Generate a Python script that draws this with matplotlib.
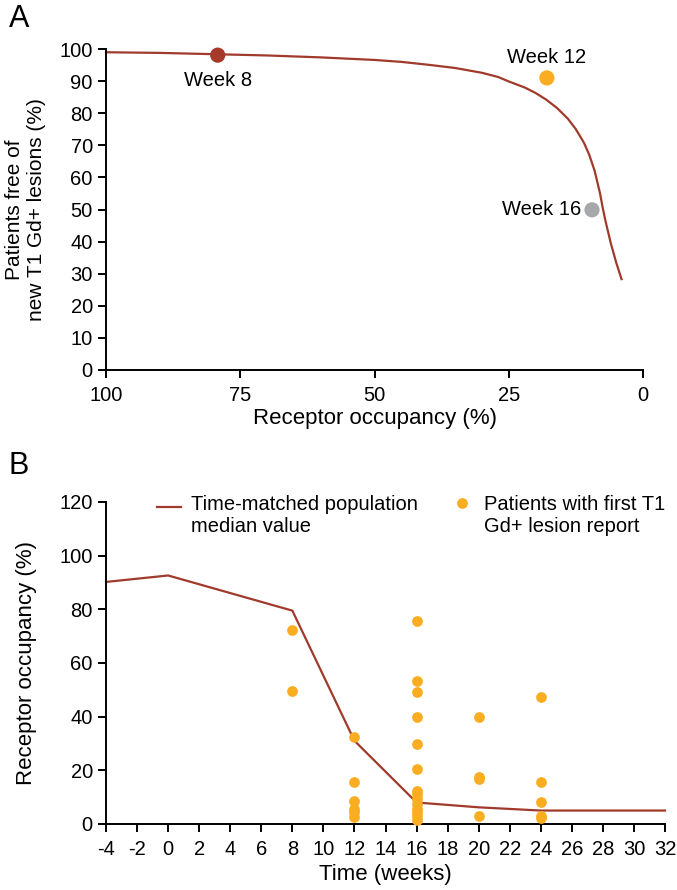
import matplotlib.pyplot as plt

plt.rcParams['font.family'] = ['Liberation Sans', 'DejaVu Sans']
plt.rcParams['axes.unicode_minus'] = False

###############################################################################
# Data
###############################################################################
# Panel A: exposure-response curve ---------------------------------------------
roCurve = [100, 90, 80, 70, 60, 50, 45, 40, 35, 30, 27, 25, 22, 20, 18, 16,
           14, 12.5, 11, 10, 9, 8, 7.5, 7, 6, 5, 4]
freeCurve = [99.0, 98.8, 98.4, 98.0, 97.4, 96.6, 96.0, 95.1, 94.1, 92.6,
             91.3, 89.9, 88.0, 86.3, 84.2, 81.6, 78.3, 75.0, 70.8, 67.0,
             62.0, 55.0, 50.5, 46.5, 39.5, 33.5, 28.3]
weekNames = ['Week 8', 'Week 12', 'Week 16']
weekRO = [79.2, 17.9, 9.5]
weekFree = [98.1, 91.0, 49.9]
# Panel B: time course ---------------------------------------------------------
medWeeks = [-4, 0, 8, 12, 16, 20, 24, 32]
medRO = [90.2, 92.6, 79.5, 31.0, 8.0, 6.2, 5.0, 5.0]
ptWeeks = (
    [8] * 2 + [12] * 6 + [16] * 14 + [20] * 4 + [24] * 5
)
ptRO = (
    [72.4, 49.4] +
    [32.3, 15.5, 8.5, 5.6, 4.4, 2.7] +
    [75.5, 53.1, 49.1, 40.0, 29.8, 20.4, 12.4, 11.2, 9.3, 7.5, 5.6, 4.4,
     3.1, 1.6] +
    [40.0, 17.4, 16.8, 2.9] +
    [47.5, 15.8, 8.3, 3.1, 2.1]
)
###############################################################################
# Styles
###############################################################################
(RED, ORANGE, GREY) = ('#a03a2b', '#fbad22', '#a6a8ab')
weekColors = ['#a53a2a', ORANGE, GREY]
(TFS, LFS) = (14.5, 16)
###############################################################################
# Figure
###############################################################################
fig = plt.figure(figsize=(6.77, 8.90), dpi=100)
axA = fig.add_axes([0.1566, 0.5843, 0.7932, 0.3606])
axB = fig.add_axes([0.1566, 0.0742, 0.8257, 0.3618])

for ax in (axA, axB):
    for s in ('top', 'right'):
        ax.spines[s].set_visible(False)
    for s in ('left', 'bottom'):
        ax.spines[s].set_linewidth(1.4)
    ax.tick_params(direction='out', length=5.5, width=1.4, labelsize=TFS)
    ax.tick_params(axis='x', pad=6)
    ax.tick_params(axis='y', pad=4)

# Panel A ---------------------------------------------------------------------
axA.plot(roCurve, freeCurve, color=RED, lw=1.6, zorder=2)
axA.scatter(weekRO, weekFree, s=120, c=weekColors, zorder=3, lw=0)
axA.annotate(weekNames[0], (weekRO[0], weekFree[0]), xytext=(0, -18),
             textcoords='offset points', ha='center', va='center',
             fontsize=TFS)
axA.annotate(weekNames[1], (weekRO[1], weekFree[1]), xytext=(0, 15),
             textcoords='offset points', ha='center', va='center',
             fontsize=TFS)
axA.annotate(weekNames[2], (weekRO[2], weekFree[2]), xytext=(-8, 0),
             textcoords='offset points', ha='right', va='center',
             fontsize=TFS)
axA.set_xlim(100, 0)
axA.set_ylim(0, 100)
axA.set_xticks([100, 75, 50, 25, 0])
axA.set_yticks(range(0, 101, 10))
axA.set_xlabel('Receptor occupancy (%)', fontsize=LFS, labelpad=2)
axA.set_ylabel('Patients free of\nnew T1 Gd+ lesions (%)', fontsize=15,
               labelpad=10, linespacing=1.15)

# Panel B ---------------------------------------------------------------------
axB.plot(medWeeks, medRO, color=RED, lw=1.6, zorder=2,
         label='Time-matched population\nmedian value')
axB.scatter(ptWeeks, ptRO, s=60, color=ORANGE, lw=0, zorder=3,
            label='Patients with first T1\nGd+ lesion report')
axB.set_xlim(-4, 32)
axB.set_ylim(0, 120)
axB.set_xticks(range(-4, 33, 2))
axB.set_yticks(range(0, 121, 20))
axB.set_xlabel('Time (weeks)', fontsize=LFS, labelpad=4)
axB.set_ylabel('Receptor occupancy (%)', fontsize=LFS, labelpad=16)
axB.legend(loc='upper left', bbox_to_anchor=(0.058, 1.09), ncol=2,
           frameon=False, fontsize=14.5, handlelength=1.2, handleheight=3.6,
           handletextpad=0.5, columnspacing=1.6, markerscale=1.0)
for ax in (axA, axB):
    for c in ax.collections + ax.lines:
        c.set_clip_on(False)

# Panel letters ---------------------------------------------------------------
fig.text(0.013, 0.995, 'A', fontsize=22, va='top', ha='left')
fig.text(0.013, 0.493, 'B', fontsize=22, va='top', ha='left')

fig.savefig('out.png', dpi=100)
